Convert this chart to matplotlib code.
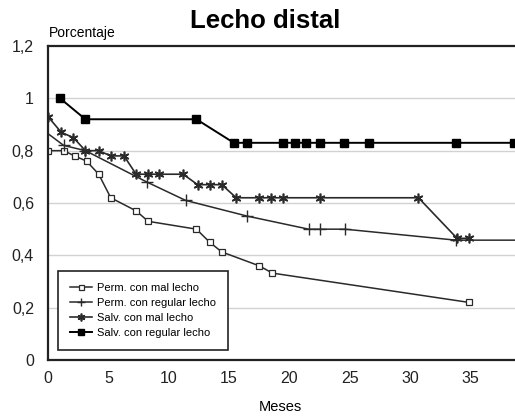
import matplotlib
matplotlib.use("Agg")
import matplotlib.pyplot as plt

plt.rcParams['font.family'] = ['Liberation Sans', 'DejaVu Sans']

# Survival curves by treatment group (months vs. proportion)
perm_mal_x = [0, 1.3, 2.2, 3.2, 4.2, 5.2, 7.3, 8.3, 12.3, 13.4, 14.4, 17.5, 18.6, 34.9]
perm_mal_y = [0.80, 0.80, 0.78, 0.76, 0.71, 0.62, 0.57, 0.53, 0.50, 0.45, 0.413, 0.36, 0.332, 0.22]

perm_reg_x = [0, 1.3, 3.1, 8.2, 11.4, 16.5, 21.6, 22.5, 24.6, 33.8, 38.7]
perm_reg_y = [0.865, 0.82, 0.80, 0.68, 0.61, 0.55, 0.50, 0.50, 0.50, 0.458, 0.458]

salv_mal_x = [0, 1.1, 2.1, 3.1, 4.2, 5.2, 6.3, 7.3, 8.3, 9.2, 11.2, 12.4, 13.4, 14.4,
              15.6, 17.5, 18.5, 19.5, 22.5, 30.7, 33.9, 34.9]
salv_mal_y = [0.93, 0.87, 0.85, 0.80, 0.80, 0.78, 0.78, 0.71, 0.71, 0.71, 0.71, 0.67, 0.67, 0.67,
              0.62, 0.62, 0.62, 0.62, 0.62, 0.62, 0.465, 0.465]

salv_reg_x = [1.0, 3.1, 12.3, 15.4, 16.5, 19.5, 20.5, 21.4, 22.5, 24.5, 26.6, 33.8, 38.6]
salv_reg_y = [1.0, 0.92, 0.92, 0.83, 0.83, 0.83, 0.83, 0.83, 0.83, 0.83, 0.83, 0.83, 0.83]

labels = ["Perm. con mal lecho", "Perm. con regular lecho",
          "Salv. con mal lecho", "Salv. con regular lecho"]
yticks = [0, 0.2, 0.4, 0.6, 0.8, 1.0, 1.2]
ytick_labels = ["0", "0,2", "0,4", "0,6", "0,8", "1", "1,2"]
xticks = [0, 5, 10, 15, 20, 25, 30, 35]

fig = plt.figure(figsize=(5.15, 4.17), dpi=100)
ax = fig.add_axes([48 / 515, 57 / 417, 1 - 48 / 515, 314 / 417])

for y in [0.2, 0.4, 0.6, 0.8, 1.0]:
    ax.axhline(y, color="#d2d2d2", lw=1.0, zorder=0)

lc = "#2a2a2a"
ax.plot(perm_mal_x, perm_mal_y, color=lc, lw=1.1, marker="s", ms=4.5,
        mfc="white", mec=lc, mew=0.9, label=labels[0])
pr_every = list(range(1, len(perm_reg_x) - 1))
ax.plot(perm_reg_x, perm_reg_y, color=lc, lw=1.1, marker="+", ms=8, mew=1.0,
        markevery=pr_every, label=labels[1])
ax.plot(salv_mal_x, salv_mal_y, color=lc, lw=1.2, marker=(6, 2, 0), ms=7, mew=1.2,
        label=labels[2])
ax.plot(salv_reg_x, salv_reg_y, color="black", lw=1.4, marker="s", ms=5.5,
        mfc="black", mec="black", label=labels[3])

ax.set_xlim(0, 38.7)
ax.set_ylim(0, 1.2)
ax.set_xticks(xticks)
ax.set_yticks(yticks)
ax.set_yticklabels(ytick_labels)
ax.tick_params(length=0, labelsize=11.5, colors="#222222", pad=8)
ax.tick_params(axis="y", pad=10)

for s in ["left", "top", "bottom"]:
    ax.spines[s].set_linewidth(1.6)
    ax.spines[s].set_color("#222222")
ax.spines["right"].set_visible(False)

fig.text(265 / 515, 1 - 21 / 417, "Lecho distal", ha="center", va="center",
         fontsize=18.5, fontweight="bold")
fig.text(49 / 515, 1 - 33 / 417, "Porcentaje", ha="left", va="center", fontsize=10)
fig.text(280 / 515, 1 - 407 / 417, "Meses", ha="center", va="center", fontsize=10.5)

leg = ax.legend(loc="lower left", bbox_to_anchor=(10 / 467, 10 / 314), fontsize=8,
                frameon=True, fancybox=False, edgecolor="#222222", framealpha=1,
                handlelength=2.0, handletextpad=0.4, labelspacing=0.45,
                borderpad=1.1, borderaxespad=0, markerscale=0.8)
leg.get_frame().set_linewidth(1.2)

fig.savefig("out.png", dpi=100)
